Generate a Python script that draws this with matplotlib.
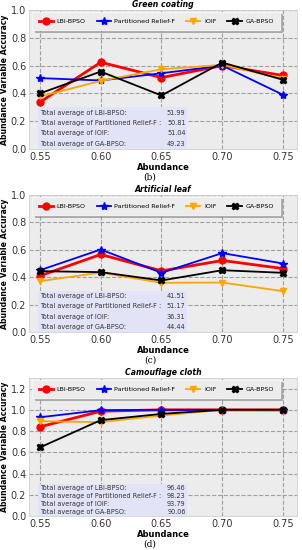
import matplotlib
matplotlib.use("Agg")
import matplotlib.pyplot as plt
from matplotlib.patches import Rectangle

abundance = [0.55, 0.60, 0.65, 0.70, 0.75]
methods = ["LBI-BPSO", "Partitioned Relief-F", "IOIF", "GA-BPSO"]

green_lbi = [0.337, 0.624, 0.514, 0.600, 0.529]
green_prf = [0.510, 0.493, 0.545, 0.600, 0.390]
green_ioif = [0.378, 0.490, 0.574, 0.605, 0.507]
green_ga = [0.400, 0.557, 0.385, 0.622, 0.498]
green_avg = ["51.99", "50.81", "51.04", "49.23"]

leaf_lbi = [0.410, 0.566, 0.446, 0.522, 0.463]
leaf_prf = [0.451, 0.602, 0.432, 0.576, 0.500]
leaf_ioif = [0.371, 0.434, 0.359, 0.361, 0.298]
leaf_ga = [0.444, 0.437, 0.376, 0.451, 0.432]
leaf_avg = ["41.51", "51.17", "36.31", "44.44"]

cloth_lbi = [0.840, 0.987, 1.000, 1.000, 1.000]
cloth_prf = [0.930, 0.997, 1.000, 1.000, 1.000]
cloth_ioif = [0.893, 0.884, 0.947, 1.000, 0.990]
cloth_ga = [0.646, 0.903, 0.962, 1.000, 1.000]
cloth_avg = ["96.46", "98.23", "93.79", "90.06"]

panels = [
    ("Green coating", [green_lbi, green_prf, green_ioif, green_ga], green_avg, "(b)", (10, 149), 1.0),
    ("Artificial leaf", [leaf_lbi, leaf_prf, leaf_ioif, leaf_ga], leaf_avg, "(c)", (195, 332), 1.0),
    ("Camouflage cloth", [cloth_lbi, cloth_prf, cloth_ioif, cloth_ga], cloth_avg, "(d)", (378, 516), 1.3),
]

colors = ["#ff0000", "#0000ff", "#ffa500", "#000000"]
markers = ["o", "*", "v", "X"]
lws = [2.0, 1.3, 1.3, 1.3]
msizes = [5, 6, 5, 5]

W, H = 302, 550
fig = plt.figure(figsize=(W / 100, H / 100), dpi=100)

labels = ["Total average of LBI-BPSO:", "Total average of Partitioned Relief-F :",
          "Total average of IOIF:", "Total average of GA-BPSO:"]

for title, series, avgs, cap, (top, bot), ymax in panels:
    left, right = 29, 297
    ax = fig.add_axes([left / W, (H - bot) / H, (right - left) / W, (bot - top) / H])
    ax.set_facecolor("#ececec")
    for s, c, m, lw, ms, name in zip(series, colors, markers, lws, msizes, methods):
        ax.plot(abundance, s, color=c, marker=m, lw=lw, ms=ms, label=name)
    ax.set_xlim(0.541, 0.7615)
    ax.set_ylim(0, ymax)
    ax.set_xticks(abundance)
    ax.set_xticklabels([f"{v:.2f}" for v in abundance])
    if ymax > 1.1:
        ax.set_yticks([0, 0.2, 0.4, 0.6, 0.8, 1.0, 1.2])
    else:
        ax.set_yticks([0, 0.2, 0.4, 0.6, 0.8, 1.0])
    ax.grid(True, ls="--", color="#a0a0a0", lw=0.8)
    ax.set_axisbelow(True)
    ax.tick_params(labelsize=7, length=0, pad=2, colors="#333333")
    for sp in ax.spines.values():
        sp.set_color("#d0d0d0")
        sp.set_linewidth(0.6)
    ax.set_title(title, fontsize=5.6, fontweight="bold", style="italic", pad=2)
    ax.set_xlabel("Abundance", fontsize=6, fontweight="bold", labelpad=1)
    ax.set_ylabel("Abundance Variable Accuracy", fontsize=5.6, fontweight="bold", labelpad=1)
    leg = ax.legend(loc="upper center", bbox_to_anchor=(0.475, 0.985), ncol=4, fontsize=4.6,
                    frameon=True, fancybox=False, handlelength=2.2,
                    shadow={"ox": 1.5, "oy": -1.5, "color": "#888888", "alpha": 0.6},
                    columnspacing=1.7, handletextpad=0.6, borderpad=1.0, borderaxespad=0)
    leg.get_frame().set_facecolor("#ececec")
    leg.get_frame().set_edgecolor("#f8f8f8")
    leg.get_frame().set_linewidth(0.6)

    # summary box
    bx0, bx1 = 0.034, 0.59
    bh = 0.3 / ymax
    ax.add_patch(Rectangle((bx0, 0), bx1 - bx0, bh, transform=ax.transAxes,
                           facecolor="#e3e3f7", edgecolor="none", zorder=3))
    n = len(labels)
    for i, (lab, val) in enumerate(zip(labels, avgs)):
        yc = bh * (n - i - 0.5) / n
        ax.text(bx0 + 0.008, yc, lab, transform=ax.transAxes, fontsize=4.7,
                color="#333333", ha="left", va="center", zorder=4)
        ax.text(bx1 - 0.006, yc, val, transform=ax.transAxes, fontsize=4.7,
                color="#333333", ha="right", va="center", zorder=4)
    fig.text(150 / W, 1 - (bot + 28) / H, cap, fontsize=6.5, family="DejaVu Serif",
             ha="center", va="center")

fig.savefig("out.png", dpi=100)
